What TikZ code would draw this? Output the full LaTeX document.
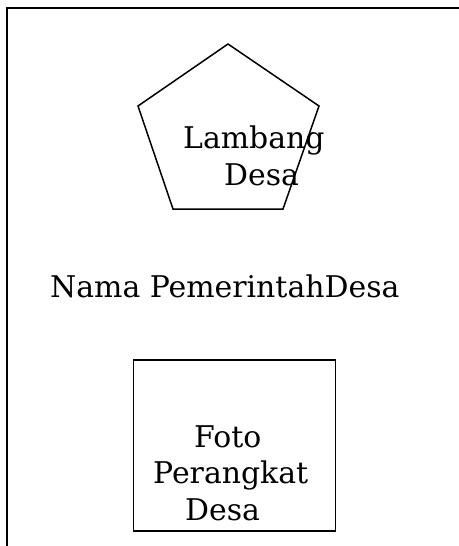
\documentclass[tikz,border=0pt]{standalone}
\usepackage{fontspec}
\setmainfont{DejaVu Serif}
\begin{document}
\begin{tikzpicture}[x=1pt,y=-1pt,
  lbl/.style={anchor=base west,inner sep=0pt,font=\fontsize{29.9}{37}\selectfont},
  shp/.style={draw,line width=1.5pt}]
\useasboundingbox (0,0) rectangle (458,546);
% frame
\draw[line width=2pt] (7,560) -- (7,8) -- (470,8);
% pentagon
\coordinate (pt) at (228,44);
\coordinate (pr) at (319,106);
\coordinate (pbr) at (283,209);
\coordinate (pbl) at (173,209);
\coordinate (pl) at (138,106);
\draw[shp] (pt) -- (pr) -- (pbr) -- (pbl) -- (pl) -- cycle;
\node[lbl] (l1) at (183,148) {Lambang};
\node[lbl] (l2) at (224,185) {Desa};
% name
\node[lbl] (nm) at (50,297) {Nama PemerintahDesa};
% photo box
\node[shp,minimum width=202pt,minimum height=171pt,anchor=north west,inner sep=0pt] (box) at (132.5,359) {};
\node[lbl] (f1) at (194,447) {Foto};
\node[lbl] (f2) at (153,483) {Perangkat};
\node[lbl] (f3) at (185,520) {Desa};
\end{tikzpicture}
\end{document}
